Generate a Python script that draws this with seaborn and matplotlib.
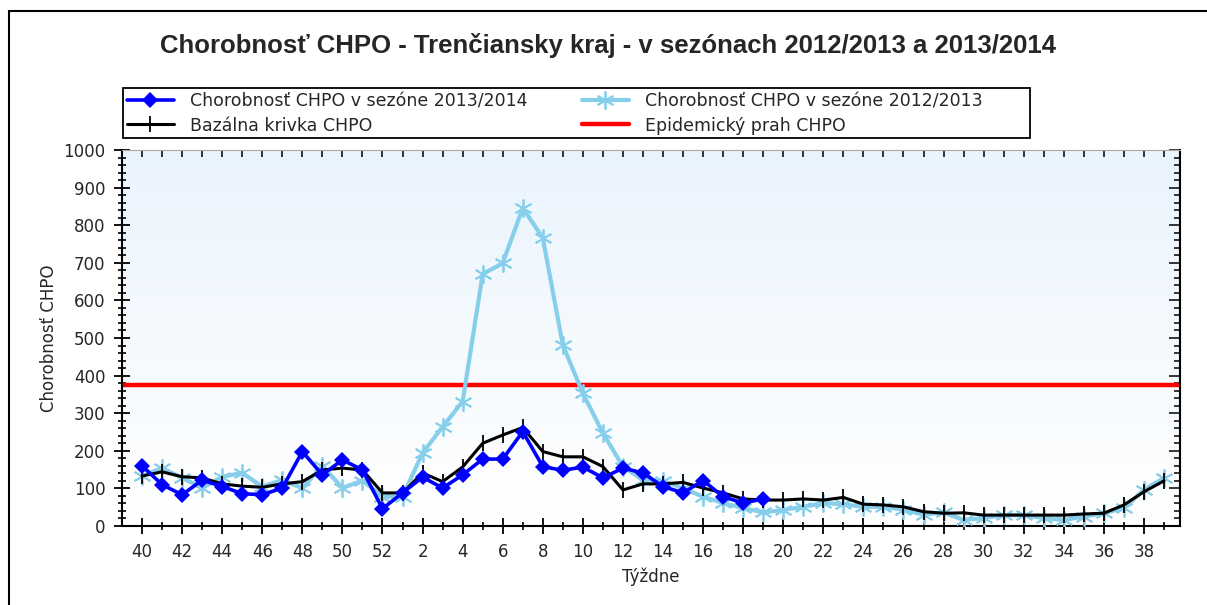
import numpy as np
import pandas as pd
import matplotlib
matplotlib.use("Agg")
import matplotlib.pyplot as plt
import seaborn as sns
from matplotlib.colors import LinearSegmentedColormap
from matplotlib.lines import Line2D
from matplotlib.patches import Rectangle

# ---------------- data ----------------
weeks = list(range(40, 53)) + list(range(1, 40))

season_1314 = [160, 110, 83, 122, 105, 86, 83, 101, 198, 136, 176, 149, 46,
               88, 130, 101, 136, 178, 178, 251, 158, 148, 157, 128, 154, 141,
               105, 88, 121, 78, 61, 72]

season_1213 = [133, 154, 128, 101, 131, 141, 105, 122, 101, 160, 101, 121, 78,
               78, 194, 264, 331, 670, 699, 846, 766, 481, 353, 247, 158, 122,
               120, 100, 78, 61, 48, 36, 43, 51, 61, 58, 51, 51, 43, 30,
               36, 16, 21, 29, 29, 21, 16, 25, 34, 48, 96, 128]

baseline = [133, 144, 131, 128, 112, 106, 103, 112, 118, 149, 154, 149, 88,
            88, 141, 118, 157, 220, 242, 262, 198, 184, 184, 158, 96, 112,
            112, 116, 101, 88, 72, 69, 69, 72, 69, 76, 58, 56, 51, 38,
            34, 35, 29, 29, 29, 29, 29, 32, 34, 56, 91, 120]

threshold = 375

title = "Chorobnosť CHPO - Trenčiansky kraj - v sezónach 2012/2013 a 2013/2014"
labels = ["Chorobnosť CHPO v sezóne 2013/2014", "Bazálna krivka CHPO",
          "Chorobnosť CHPO v sezóne 2012/2013", "Epidemický prah CHPO"]
xlabel = "Týždne"
ylabel = "Chorobnosť CHPO"

# ---------------- plot ----------------
sns.set_style("white")
plt.rcParams["font.family"] = ["DejaVu Sans"]

W, H = 1207, 605
fig = plt.figure(figsize=(W / 100, H / 100), dpi=100)
fig.patch.set_facecolor("white")

ax = fig.add_axes([122 / W, 1 - 526 / H, (1180 - 122) / W, (526 - 150) / H])

xlim = (-1, 51.8)
ax.set_xlim(*xlim)
ax.set_ylim(0, 1000)

cmap = LinearSegmentedColormap.from_list("bg", ["#eaf4fd", "#ffffff"])
ax.imshow(np.linspace(0, 1, 256).reshape(-1, 1), cmap=cmap, aspect="auto",
          extent=[0, 1, 0, 1], transform=ax.transAxes, zorder=0)

df_13 = pd.DataFrame({"i": np.arange(len(season_1213)), "v": season_1213})
df_b = pd.DataFrame({"i": np.arange(len(baseline)), "v": baseline})
df_14 = pd.DataFrame({"i": np.arange(len(season_1314)), "v": season_1314})

sns.lineplot(data=df_13, x="i", y="v", ax=ax, color="#87ceeb", lw=3.0,
             marker=(6, 2, 0), markersize=13, markeredgewidth=1.3,
             markeredgecolor="#87ceeb", zorder=3)
sns.lineplot(data=df_b, x="i", y="v", ax=ax, color="black", lw=2.2,
             marker="|", markersize=11, markeredgewidth=1.3,
             markeredgecolor="black", zorder=4)
sns.lineplot(data=df_14, x="i", y="v", ax=ax, color="#0000ff", lw=2.6,
             marker="D", markersize=8, markeredgewidth=0,
             zorder=5)
ax.axhline(threshold, color="#ff0000", lw=3.2, zorder=2)

# ticks
ax.set_xticks([i for i, w in enumerate(weeks) if w % 2 == 0])
ax.set_xticklabels([str(w) for w in weeks if w % 2 == 0])
ax.set_xticks([i for i, w in enumerate(weeks) if w % 2 == 1], minor=True)
ax.set_yticks(np.arange(0, 1001, 100))
ax.set_yticks(np.arange(0, 1001, 20), minor=True)
ax.tick_params(axis="both", which="major", direction="inout", length=11,
               width=1.3, color="black", labelsize=12, pad=6.5,
               left=True, bottom=True)
ax.tick_params(axis="both", which="minor", direction="inout", length=6,
               width=1.2, color="black", left=True, bottom=True)

top = ax.secondary_xaxis("top")
top.set_xticks(np.arange(len(weeks)))
top.set_xticklabels([])
top.tick_params(direction="in", length=5, width=1.1, color="black")
top.spines["top"].set_visible(False)

right = ax.secondary_yaxis("right")
right.set_yticks(np.arange(0, 1001, 100))
right.set_yticklabels([])
right.set_yticks(np.arange(0, 1001, 20), minor=True)
right.tick_params(which="major", direction="in", length=8, width=1.1, color="black")
right.tick_params(which="minor", direction="in", length=4, width=1.1, color="black")
right.spines["right"].set_visible(False)

for s in ["left", "bottom", "right"]:
    ax.spines[s].set_color("black")
    ax.spines[s].set_linewidth(1.5)
ax.spines["top"].set_color("#aaaaaa")
ax.spines["top"].set_linewidth(0.8)

ax.set_xlabel(xlabel, fontsize=12, labelpad=5)
ax.set_ylabel(ylabel, fontsize=12, labelpad=3.5)
ax.grid(False)

fig.text(608 / W, 1 - 45 / H, title, ha="center", va="center",
         fontsize=18.5, fontweight="bold", color="#262626",
         family="Liberation Sans")

handles = [
    Line2D([], [], color="#0000ff", lw=2.6, marker="D", markersize=8, markeredgewidth=0),
    Line2D([], [], color="black", lw=2.2, marker="|", markersize=11, markeredgewidth=1.3),
    Line2D([], [], color="#87ceeb", lw=3.0, marker=(6, 2, 0), markersize=13, markeredgewidth=1.3),
    Line2D([], [], color="#ff0000", lw=3.2),
]

# legend frame
fig.add_artist(Rectangle((123 / W, 1 - 138 / H), (1030 - 123) / W, 50 / H,
                         transform=fig.transFigure, facecolor="white",
                         edgecolor="black", lw=1.3, zorder=1))
leg_kw = dict(fontsize=12.5, frameon=False, borderpad=0, borderaxespad=0,
              handlelength=2.7, handletextpad=0.95, labelspacing=0.35,
              loc="center left")
leg1 = fig.legend(handles[:2], labels[:2],
                  bbox_to_anchor=(127 / W, 1 - 113.5 / H), **leg_kw)
leg2 = fig.legend(handles[2:], labels[2:],
                  bbox_to_anchor=(582 / W, 1 - 113.5 / H), **leg_kw)
leg1.set_zorder(2)
leg2.set_zorder(2)

# outer frame
fig.add_artist(Line2D([9 / W, 9 / W], [0, 1 - 11 / H], transform=fig.transFigure,
                      color="black", lw=1.5))
fig.add_artist(Line2D([9 / W, 1], [1 - 11 / H, 1 - 11 / H], transform=fig.transFigure,
                      color="black", lw=1.5))

fig.savefig("out.png", dpi=100)
